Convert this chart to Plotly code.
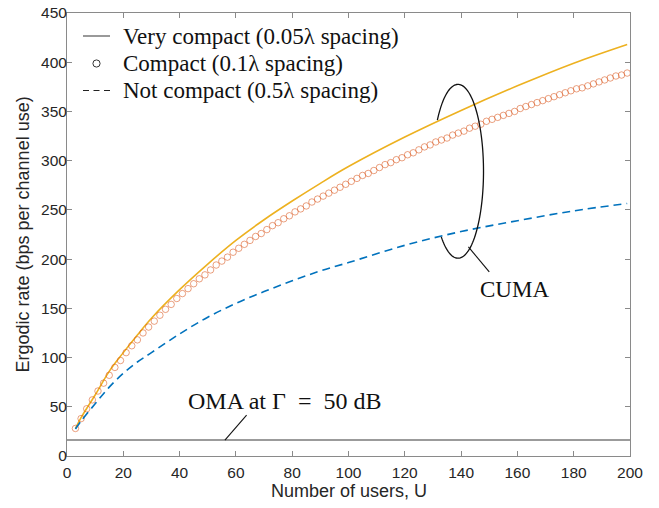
import numpy as np
import plotly.graph_objects as go

# ---------------- data ----------------
u_circ = list(range(3, 200, 2))
compact_rate = [28, 38, 48, 57, 66, 74, 82, 90, 97, 105, 112, 118, 125, 131, 137, 143, 149, 154, 160, 165,
                170, 175, 180, 184, 189, 194, 198, 202, 207, 211, 215, 219, 223, 226, 230, 234, 237, 241, 244, 248,
                251, 254, 258, 261, 264, 267, 270, 273, 276, 279, 282, 285, 287, 290, 293, 296, 298, 301, 303, 306,
                308, 311, 314, 316, 319, 321, 323, 326, 328, 330, 333, 335, 337, 340, 342, 344, 346, 348, 350, 353,
                355, 357, 359, 361, 363, 365, 367, 369, 371, 373, 374, 376, 378, 380, 382, 384, 386, 387, 389]

u_line = [3, 5, 10, 15, 20, 25, 30, 40, 50, 60, 70, 80, 90, 100, 120, 140, 160, 180, 199]
very_compact_rate = [28, 39, 62, 86, 105, 123, 140, 169, 195, 219, 240, 259, 277, 294, 324, 351, 376, 399, 418]
not_compact_rate = [27.4, 35.5, 53, 70, 84, 95.5, 105, 124, 141, 155, 167, 178, 188, 196.5, 214, 228, 239, 249, 256.5]

u_oma = [0, 200]
oma_rate = [16.2, 16.2]

x_ticks = list(range(0, 201, 20))
y_ticks = list(range(0, 451, 50))

legend_labels = ["Very compact (0.05λ spacing)", "Compact (0.1λ spacing)", "Not compact (0.5λ spacing)"]
x_title = "Number of users, U"
y_title = "Ergodic rate (bps per channel use)"

# ---------------- style ----------------
ORANGE = "#EDB120"
RED = "rgba(217,83,25,0.55)"
BLUE = "#0072BD"
AX = "#8a8a8a"
SERIF = "Liberation Serif"
SANS = "Liberation Sans"
INK = "#111111"
LABEL = "#262626"

# plot area in pixels
L, R, T, B = 67, 630, 13, 456

fig = go.Figure()

fig.add_trace(go.Scatter(x=u_line, y=very_compact_rate, mode="lines",
                         line=dict(color=ORANGE, width=1.6, shape="spline"),
                         name=legend_labels[0], showlegend=False, hoverinfo="skip"))
fig.add_trace(go.Scatter(x=u_circ, y=compact_rate, mode="markers",
                         marker=dict(symbol="circle-open", size=6.5, color=RED, line=dict(width=1, color=RED)),
                         name=legend_labels[1], showlegend=False, hoverinfo="skip"))
fig.add_trace(go.Scatter(x=u_line, y=not_compact_rate, mode="lines",
                         line=dict(color=BLUE, width=1.6, dash="8px,5px", shape="spline"),
                         name=legend_labels[2], showlegend=False, hoverinfo="skip"))
fig.add_trace(go.Scatter(x=u_oma, y=oma_rate, mode="lines", line=dict(color="#7a7a7a", width=1.6),
                         name="OMA", showlegend=False, hoverinfo="skip"))

def px2paper_x(p):
    return (p - L) / float(R - L)
def px2paper_y(p):
    return (B - p) / float(B - T)

# ---------------- legend (drawn manually: generic black symbols, tight rows) ----------------
x0_px, x1_px, text_px = 83, 110, 121
rows_px = [36, 63.5, 90.5]

shapes = []
annotations = []
ry = [px2paper_y(r) for r in rows_px]
shapes.append(dict(type="line", xref="paper", yref="paper", x0=px2paper_x(x0_px), x1=px2paper_x(x1_px),
                   y0=ry[0], y1=ry[0], line=dict(color="#6e6e6e", width=1.4)))
shapes.append(dict(type="circle", xref="paper", yref="paper", xsizemode="pixel", ysizemode="pixel",
                   xanchor=px2paper_x((x0_px + x1_px) / 2), yanchor=ry[1], x0=-3.6, x1=3.6, y0=-3.6, y1=3.6,
                   line=dict(color="#333333", width=1)))
shapes.append(dict(type="line", xref="paper", yref="paper", x0=px2paper_x(x0_px), x1=px2paper_x(x1_px),
                   y0=ry[2], y1=ry[2], line=dict(color="#222222", width=1.2, dash="6px,4.5px")))
for lab, yy in zip(legend_labels, ry):
    annotations.append(dict(x=px2paper_x(text_px), y=yy, xref="paper", yref="paper", xanchor="left",
                            yanchor="middle", text=lab, showarrow=False,
                            font=dict(family=SERIF, size=23, color=INK)))

# axis titles
annotations.append(dict(x=px2paper_x((L + R) / 2), y=px2paper_y(491), xref="paper", yref="paper",
                        xanchor="center", yanchor="middle", text=x_title, showarrow=False,
                        font=dict(family=SANS, size=18, color=LABEL)))
annotations.append(dict(x=px2paper_x(22), y=px2paper_y((T + B) / 2), xref="paper", yref="paper",
                        xanchor="center", yanchor="middle", text=y_title, showarrow=False, textangle=-90,
                        font=dict(family=SANS, size=18, color=LABEL)))

# ellipse arc grouping the CUMA curves
cx, cy, ax_, ay_ = 138.9, 289.2, 9.06, 88.3
t = np.deg2rad(np.linspace(144, -131, 120))
ex = cx + ax_ * np.cos(t)
ey = cy + ay_ * np.sin(t)
path = "M " + " L ".join(f"{a:.3f},{b:.3f}" for a, b in zip(ex, ey))
shapes += [dict(type="path", path=path, xref="x", yref="y", line=dict(color=INK, width=1.3)),
           dict(type="line", xref="x", yref="y", x0=142.6, y0=212.4, x1=150.0, y1=187.0,
                line=dict(color=INK, width=1.1)),
           dict(type="line", xref="x", yref="y", x0=63.8, y0=41.6, x1=56.1, y1=16.2,
                line=dict(color=INK, width=1.1))]

NB = "\u00a0"
annotations += [
    dict(x=159.1, y=169.5, xref="x", yref="y", text="CUMA", showarrow=False,
         font=dict(family=SERIF, size=23, color=INK)),
    dict(x=77.1, y=56, xref="x", yref="y", text=f"OMA at Γ{NB}{NB}={NB}{NB}50 dB", showarrow=False,
         font=dict(family=SERIF, size=24, color=INK)),
]

axis_common = dict(showline=True, linecolor=AX, linewidth=1, mirror="allticks", ticks="inside", ticklen=5,
                   tickcolor=AX, tickwidth=1, showgrid=False, zeroline=False, automargin=False,
                   tickfont=dict(family=SANS, size=15.5, color=LABEL))

fig.update_layout(
    width=659, height=508,
    margin=dict(l=L, r=659 - R, t=T, b=508 - B, autoexpand=False),
    paper_bgcolor="white", plot_bgcolor="white",
    showlegend=False,
    xaxis=dict(range=[0, 200], tickvals=x_ticks, ticklabelstandoff=2, **axis_common),
    yaxis=dict(range=[0, 450], tickvals=y_ticks, ticklabelstandoff=-4, **axis_common),
    shapes=shapes, annotations=annotations,
)

fig.write_html("out.html")
